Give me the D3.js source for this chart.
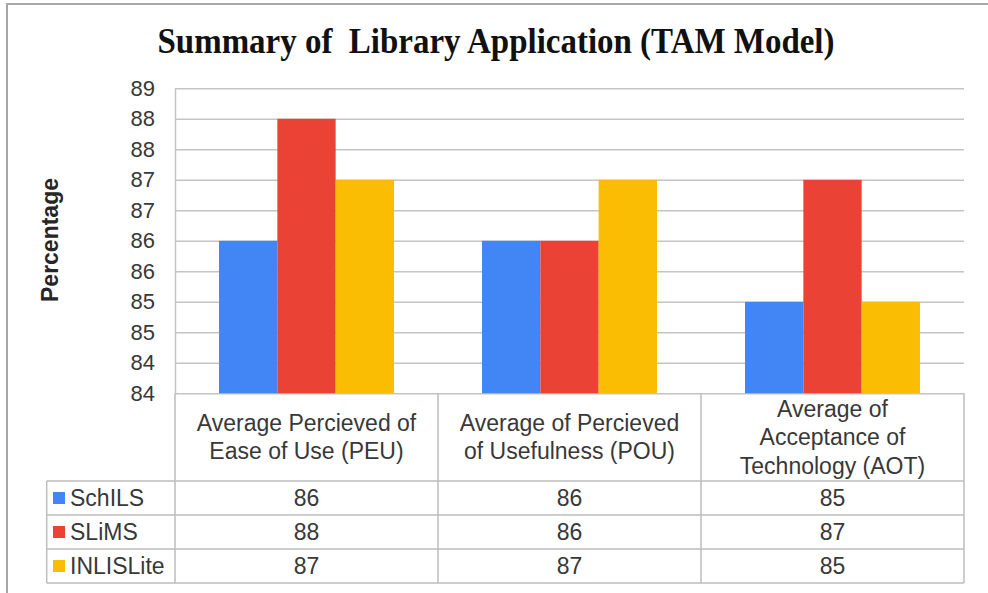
<!DOCTYPE html>
<html>
<head>
<meta charset="utf-8">
<script src="https://cdn.jsdelivr.net/npm/d3@7"></script>
<style>
  body { margin: 0; background: #fff; }
  svg { display: block; font-family: Arial, "Liberation Sans", sans-serif; }
</style>
</head>
<body>
<svg id="chart" width="988" height="593"></svg>
<script>
// data
const categories = ['PEU', 'POU', 'AOT']
const categoryLines = [
    ['Average Percieved of', 'Ease of Use (PEU)'],
    ['Average of Percieved', 'of Usefulness (POU)'],
    ['Average of', 'Acceptance of', 'Technology (AOT)']
]
const series = ['SchILS', 'SLiMS', 'INLISLite']
const colors = ['#4285f4', '#ea4335', '#fbbc04']
const schils = [86.5, 86.5, 85.5]
const slims = [88.5, 86.5, 87.5]
const inlislite = [87.5, 87.5, 85.5]
const yTicks = [84, 84.5, 85, 85.5, 86, 86.5, 87, 87.5, 88, 88.5, 89]

const values = [schils, slims, inlislite]
const width = 988, height = 593
const plotLeft = 175, plotRight = 964, plotTop = 88.3, plotBottom = 393.3
const tableLeft = 46.7
const headerBottom = 481
const rowH = 34
const textColor = '#383838'

const svg = d3.select('#chart')

// outer chart border
svg.append('rect')
    .attr('x', 7).attr('y', 4)
    .attr('width', width + 10).attr('height', height + 10)
    .attr('fill', 'none')
    .attr('stroke', '#a6a6a6')
    .attr('stroke-width', 2)

svg.append('text')
    .attr('x', 496).attr('y', 53)
    .attr('text-anchor', 'middle')
    .attr('font-family', '"Liberation Serif", "Times New Roman", serif')
    .attr('font-weight', 'bold')
    .attr('font-size', 36)
    .attr('textLength', 677)
    .attr('lengthAdjust', 'spacingAndGlyphs')
    .attr('fill', '#111')
    .style('white-space', 'pre')
    .text('Summary of  Library Application (TAM Model)')

const xScale = d3.scaleBand()
    .domain(categories)
    .range([plotLeft, plotRight])
    .padding(0)

const inner = d3.scaleBand()
    .domain(series)
    .range([0, xScale.bandwidth()])
    .paddingInner(0)
    .paddingOuter(0.755)

const yScale = d3.scaleLinear()
    .domain([84, 89])
    .range([plotBottom, plotTop])

// gridlines
const grid = svg.append('g')
    .attr('transform', 'translate(' + plotLeft + ',0)')
    .call(d3.axisLeft(yScale).tickValues(yTicks).tickSize(-(plotRight - plotLeft)).tickFormat(''))
grid.select('.domain').remove()
grid.selectAll('line').attr('stroke', '#c4c4c4').attr('stroke-width', 1.5)

// y axis labels
const yAxis = svg.append('g')
    .attr('transform', 'translate(' + plotLeft + ',0)')
    .call(d3.axisLeft(yScale).tickValues(yTicks).tickSize(0).tickPadding(20).tickFormat(d => Math.floor(d)))
yAxis.select('.domain').attr('stroke', '#c4c4c4').attr('stroke-width', 1.5)
yAxis.selectAll('text')
    .attr('font-size', 22)
    .attr('font-family', 'Arial, "Liberation Sans", sans-serif')
    .attr('fill', textColor)

svg.append('text')
    .attr('transform', 'translate(58,240) rotate(-90)')
    .attr('text-anchor', 'middle')
    .attr('font-weight', 'bold')
    .attr('font-size', 23)
    .attr('fill', '#262626')
    .text('Percentage')

// bars
series.forEach((s, si) => {
    svg.append('g')
        .selectAll('rect')
        .data(values[si])
        .enter()
        .append('rect')
        .attr('x', (d, i) => xScale(categories[i]) + inner(s))
        .attr('width', inner.bandwidth())
        .attr('y', d => yScale(d))
        .attr('height', d => yScale(84) - yScale(d))
        .attr('fill', colors[si])
})

// data table
const tableBottom = headerBottom + rowH * series.length
const lineColor = '#bdbdbd'
const tbl = svg.append('g').attr('stroke', lineColor).attr('stroke-width', 1.5)

const vx = categories.map(c => xScale(c)).concat([plotRight])
vx.forEach(x => {
    tbl.append('line').attr('x1', x).attr('x2', x).attr('y1', plotBottom).attr('y2', tableBottom)
})
tbl.append('line').attr('x1', tableLeft).attr('x2', tableLeft).attr('y1', headerBottom).attr('y2', tableBottom)
d3.range(series.length + 1).forEach(r => {
    const y = headerBottom + r * rowH
    tbl.append('line').attr('x1', tableLeft).attr('x2', plotRight).attr('y1', y).attr('y2', y)
})

// header text
categories.forEach((c, ci) => {
    const lines = categoryLines[ci]
    const cy = (plotBottom + headerBottom) / 2
    const lh = 28.5
    const t = svg.append('text')
        .attr('text-anchor', 'middle')
        .attr('font-size', 23)
        .attr('fill', textColor)
    lines.forEach((ln, li) => {
        t.append('tspan')
            .attr('x', xScale(c) + xScale.bandwidth() / 2)
            .attr('y', cy + (li - (lines.length - 1) / 2) * lh)
            .attr('dy', '0.35em')
            .text(ln)
    })
})

// rows
series.forEach((s, si) => {
    const cy = headerBottom + si * rowH + rowH / 2
    svg.append('rect')
        .attr('x', 53).attr('y', cy - 6)
        .attr('width', 12).attr('height', 12)
        .attr('fill', colors[si])
    svg.append('text')
        .attr('x', 70).attr('y', cy).attr('dy', '0.36em')
        .attr('font-size', 23)
        .attr('fill', textColor)
        .text(s)
    values[si].forEach((v, ci) => {
        svg.append('text')
            .attr('x', xScale(categories[ci]) + xScale.bandwidth() / 2)
            .attr('y', cy).attr('dy', '0.36em')
            .attr('text-anchor', 'middle')
            .attr('font-size', 23)
            .attr('fill', textColor)
            .text(Math.floor(v))
    })
})
</script>
</body>
</html>
